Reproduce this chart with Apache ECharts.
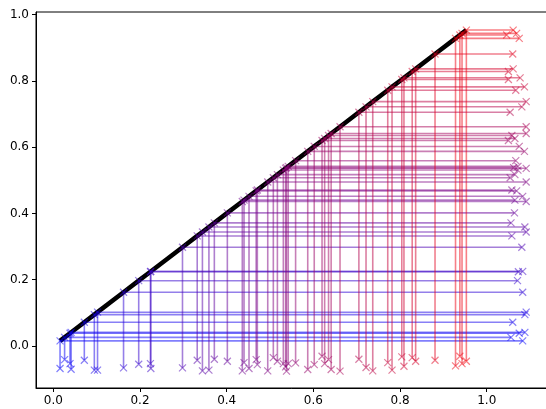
<!DOCTYPE html>
<html>
<head>
<meta charset="utf-8">
<script src="https://cdn.jsdelivr.net/npm/echarts@6/dist/echarts.min.js"></script>
<style>html,body{margin:0;padding:0;background:#fff}#c{width:546px;height:409px}</style>
</head>
<body>
<div id="c"></div>
<script>
// sorted values (x of vertical line = y of horizontal line)
const values = [0.0155,0.026,0.0385,0.041,0.0715,0.0946,0.102,0.162,0.197,0.224,0.225,0.298,0.332,0.344,0.359,0.3715,0.4015,0.436,0.440,0.4515,0.468,0.4707,0.4947,0.5076,0.517,0.5307,0.536,0.538,0.542,0.559,0.587,0.602,0.620,0.626,0.635,0.641,0.6615,0.705,0.7215,0.737,0.7716,0.7815,0.804,0.809,0.828,0.836,0.8807,0.928,0.938,0.943,0.953];
// y position of the bottom marker of each vertical line
const bottomY = [-0.068,-0.041,-0.053,-0.070,-0.043,-0.073,-0.073,-0.066,-0.055,-0.053,-0.068,-0.066,-0.043,-0.075,-0.073,-0.040,-0.046,-0.075,-0.050,-0.068,-0.041,-0.056,-0.075,-0.035,-0.046,-0.053,-0.063,-0.076,-0.053,-0.051,-0.071,-0.056,-0.031,-0.053,-0.041,-0.071,-0.076,-0.040,-0.065,-0.075,-0.050,-0.073,-0.033,-0.061,-0.035,-0.046,-0.043,-0.060,-0.031,-0.053,-0.046];
// x position of the right marker of each horizontal line
const rightX = [1.083,1.056,1.075,1.088,1.060,1.088,1.091,1.083,1.071,1.073,1.083,1.081,1.058,1.091,1.088,1.056,1.064,1.091,1.065,1.083,1.069,1.058,1.091,1.054,1.065,1.072,1.091,1.062,1.072,1.067,1.087,1.075,1.050,1.065,1.058,1.091,1.091,1.054,1.081,1.091,1.067,1.087,1.050,1.077,1.050,1.061,1.060,1.075,1.046,1.069,1.061];
const xTicks = [0, 0.2, 0.4, 0.6, 0.8, 1.0];
const yTicks = [0, 0.2, 0.4, 0.6, 0.8, 1.0];

const chart = echarts.init(document.getElementById('c'), null, {renderer: 'canvas'});
const FONT = 'DejaVu Sans';
const X_PATH = 'path://M0,0L10,10M10,0L0,10';

const series = [];
series.push({
  type: 'line',
  data: values.map(v => [v, v]),
  symbol: 'none',
  lineStyle: {color: '#000', width: 4.6, cap: 'butt'},
  z: 1,
  silent: true
});
values.forEach((v, i) => {
  const t = v;
  const c = 'rgba(' + Math.round(255 * t) + ',0,' + Math.round(255 * (1 - t)) + ',0.5)';
  series.push({
    type: 'line',
    data: [[v, bottomY[i]], [v, v], [rightX[i], v]],
    symbol: X_PATH,
    symbolSize: 7,
    showSymbol: true,
    lineStyle: {color: c, width: 1.6},
    itemStyle: {color: c, borderColor: c, borderWidth: 1.2},
    z: 2,
    silent: true
  });
});

const fmt = v => v.toFixed(1);
chart.setOption({
  animation: false,
  grid: {left: 36, top: 12, width: 516, height: 376, outerBoundsMode: 'none', containLabel: false, show: true, borderColor: '#000', borderWidth: 1, backgroundColor: 'transparent'},
  xAxis: {
    type: 'value', min: -0.040, max: 1.1506,
    splitLine: {show: false},
    axisLine: {show: true, onZero: false, lineStyle: {color: '#000', width: 1}},
    axisTick: {show: true, inside: false, length: 4, lineStyle: {color: '#000'}, customValues: xTicks},
    axisLabel: {color: '#000', fontFamily: FONT, fontSize: 12, margin: 7, formatter: fmt, customValues: xTicks}
  },
  yAxis: {
    type: 'value', min: -0.1267, max: 1.0075,
    splitLine: {show: false},
    axisLine: {show: true, onZero: false, lineStyle: {color: '#000', width: 1}},
    axisTick: {show: true, inside: false, length: 4, lineStyle: {color: '#000'}, customValues: yTicks},
    axisLabel: {color: '#000', fontFamily: FONT, fontSize: 12, margin: 7, formatter: fmt, customValues: yTicks}
  },
  series: series
});
</script>
</body>
</html>
